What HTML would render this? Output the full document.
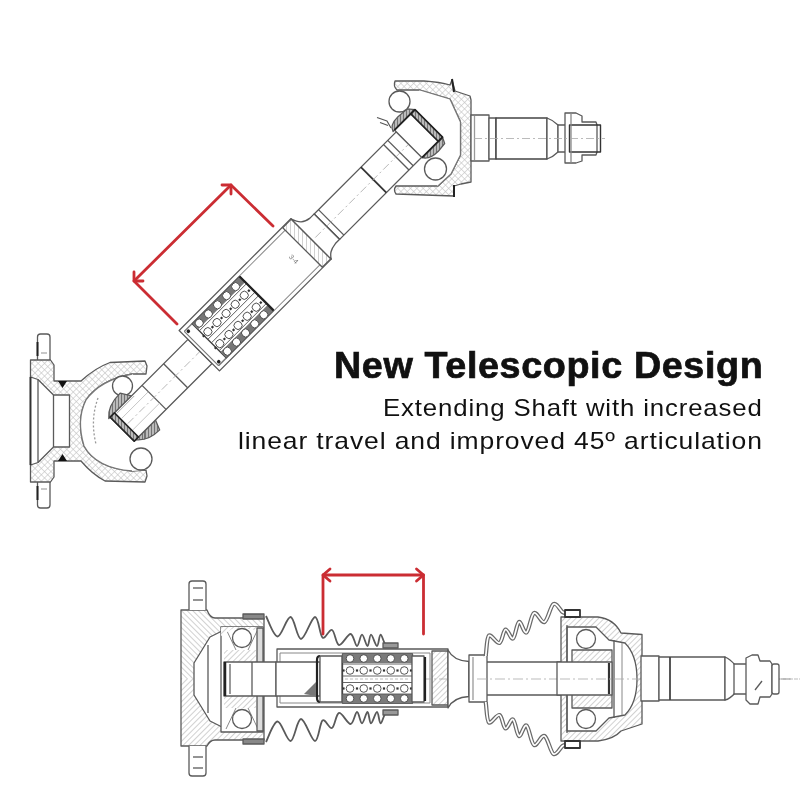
<!DOCTYPE html>
<html><head><meta charset="utf-8">
<style>
html,body{margin:0;padding:0;background:#fff;width:800px;height:800px;overflow:hidden;}
.t{position:absolute;font-family:"Liberation Sans",sans-serif;color:#111;white-space:nowrap;line-height:1;transform-origin:0 0;}
#t1{font-weight:bold;font-size:36px;letter-spacing:0.6px;-webkit-text-stroke:0.7px #111;left:333.5px;top:347.8px;transform:scaleX(1.047);}
#t2{font-size:24px;letter-spacing:0.8px;left:383.4px;top:395.7px;transform:scaleX(1.074);}
#t3{font-size:24px;letter-spacing:0.8px;left:237.8px;top:428.6px;transform:scaleX(1.104);}
svg{position:absolute;left:0;top:0;filter:blur(0.45px);}
</style></head><body>
<svg width="800" height="800" viewBox="0 0 800 800">
<defs>
<pattern id="h" width="4" height="4" patternUnits="userSpaceOnUse" patternTransform="rotate(45)">
<rect width="4" height="4" fill="#fff"/><line x1="0" y1="0" x2="0" y2="4" stroke="#b8b8b8" stroke-width="1.3"/></pattern>
<pattern id="hd" width="3" height="3" patternUnits="userSpaceOnUse" patternTransform="rotate(45)">
<rect width="3" height="3" fill="#bbb"/><line x1="0" y1="0" x2="0" y2="3" stroke="#444" stroke-width="1.2"/></pattern>
<pattern id="hx" width="4.5" height="4.5" patternUnits="userSpaceOnUse" patternTransform="rotate(45)">
<rect width="4.5" height="4.5" fill="#fff"/><line x1="0" y1="0" x2="0" y2="4.5" stroke="#c4c4c4" stroke-width="1.2"/><line x1="0" y1="0" x2="4.5" y2="0" stroke="#c4c4c4" stroke-width="1.2"/></pattern>
<pattern id="h2" width="4" height="4" patternUnits="userSpaceOnUse" patternTransform="rotate(-45)">
<rect width="4" height="4" fill="#fff"/><line x1="0" y1="0" x2="0" y2="4" stroke="#b8b8b8" stroke-width="1.3"/></pattern>
</defs>
<g id="top" fill="none" stroke="#5a5a5a" stroke-width="1.3" stroke-linejoin="round">
 <!-- left flange (unrotated) -->
 <path fill="#fff" d="M37.5,360 L37.5,337 Q37.5,334 40.5,334 L47,334 Q50,334 50,337 L50,360"/>
 <line x1="37.5" y1="342" x2="37.5" y2="356" stroke="#222" stroke-width="2"/>
 <line x1="41" y1="353" x2="47" y2="353" stroke="#aaa"/>
 <path fill="#fff" d="M37.5,482 L37.5,505 Q37.5,508 40.5,508 L47,508 Q50,508 50,505 L50,482"/>
 <line x1="37.5" y1="486" x2="37.5" y2="500" stroke="#222" stroke-width="2"/>
 <line x1="41" y1="489" x2="47" y2="489" stroke="#aaa"/>
 <path fill="url(#hx)" d="M30.5,360 L50.5,360 L54,365 L54,381 L81,381 Q95,368 110,362.5 L145,361 L147,366 L146,374 L132,374 Q100,380 86,400 Q76,420 84,446 Q96,468 132,471 L146,470 L147,476 L145,482 L105,481 Q92,474 81,461 L54,461 L54,477 L50.5,482 L30.5,482 Z"/>
 <path fill="#fff" d="M30.5,377 L38,379.5 L53.5,395 L69.5,395 L69.5,447 L53.5,447 L38,462.5 L30.5,465 Z"/>
 <line x1="38" y1="379.5" x2="38" y2="462.5"/>
 <line x1="53.5" y1="395" x2="53.5" y2="447"/>
 <line x1="30.5" y1="377" x2="30.5" y2="465" stroke="#333" stroke-width="1.8"/>
 <path d="M58,381 L67,381 L62.5,388 Z" fill="#111" stroke="none"/>
 <path d="M58,461 L67,461 L62.5,454 Z" fill="#111" stroke="none"/>
 <!-- yoke cavity inner white -->
 <path fill="#fff" d="M132,374 Q100,380 86,400 Q76,420 84,446 Q96,468 132,471 L146,470 L160,430 L140,380 Z" stroke="none"/>
 <path d="M132,374 Q100,380 86,400 Q76,420 84,446 Q96,468 132,471" stroke="#777"/>
 <path d="M98,398 Q90,420 96,444" stroke="#999" stroke-dasharray="2,2"/>
 <circle cx="122.5" cy="386" r="10" fill="#fff"/>
 <circle cx="141" cy="459" r="11" fill="#fff"/>
 <!-- upper joint housing (unrotated) -->
 <path fill="url(#hx)" d="M395,81 L424,81 Q440,82 450,85 L452,80 L455,91 L470,96 L471,100 L471,182 L461,184 L454,186 L454,196 L396,194 Q393,190 396,186 L438,186 L451,174 L460.5,155 L460.5,122 L450,99 L420,90 L397,90 Q393,86 395,81 Z"/>
 <path fill="#fff" d="M420,90 L450,99 L460.5,122 L460.5,155 L451,174 L438,186 L420,170 L395,120 Z" stroke="none"/>
 <path d="M420,90 L450,99 L460.5,122 L460.5,155 L451,174 L438,186" stroke="#777"/>
 <line x1="452" y1="79" x2="454" y2="92" stroke="#222" stroke-width="2"/>
 <line x1="454" y1="185" x2="454" y2="197" stroke="#222" stroke-width="2"/>
 <!-- output stub -->
 <rect x="471" y="115" width="18" height="46" fill="#fff"/>
 <line x1="474.5" y1="116" x2="474.5" y2="160" stroke="#999"/>
 <rect x="489" y="118" width="7" height="41" fill="#fff"/>
 <rect x="496" y="118" width="51" height="41" fill="#fff" stroke="#444" stroke-width="1.5"/>
 <path fill="#fff" d="M547,118 Q553,120 558,125 L558,152 Q553,157 547,159 Z"/>
 <rect x="558" y="125" width="8" height="27" fill="#fff"/>
 <path fill="#fff" d="M565,113 L576,113 L582,116 L582,122 L596,122 L597,125 L597,152 L596,155 L582,155 L582,161 L576,163 L565,163 Z"/>
 <rect x="569.5" y="125" width="31" height="27" fill="none" stroke="#333" stroke-width="1.4"/>
 <line x1="571" y1="113" x2="571" y2="163" stroke="#888"/>
 <line x1="474" y1="138.5" x2="605" y2="138.5" stroke="#aaa" stroke-width="0.8" stroke-dasharray="8,3,2,3"/>
 <!-- rotated shaft -->
 <g transform="translate(130,420) rotate(-45)">
  <!-- inner race left joint -->
  <path fill="url(#hd)" d="M-14,-16 Q-6,-26 12,-26 L18,-16 Z"/>
  <path fill="url(#hd)" d="M-10,18 Q-2,28 14,28 L18,18 Z"/>
  <!-- lower shaft -->
  <rect x="-12" y="-16" width="110" height="34" fill="#fff"/>
  <rect x="-12" y="-16" width="6" height="34" fill="url(#hd)" stroke="#222" stroke-width="1.6"/>
  <line x1="33" y1="-16" x2="33" y2="18"/>
  <line x1="63.5" y1="-16" x2="63.5" y2="18"/>
  <line x1="-4" y1="1" x2="98" y2="1" stroke="#aaa" stroke-width="0.8" stroke-dasharray="8,3,2,3"/>
  <line x1="-5" y1="-7" x2="33" y2="-7" stroke="#bbb" stroke-width="0.8"/>
  <line x1="-5" y1="9" x2="33" y2="9" stroke="#bbb" stroke-width="0.8"/>
  <line x1="-5" y1="-14" x2="20" y2="-14" stroke="#999" stroke-width="0.8"/>
  <!-- housing -->
  <rect x="98" y="-28.5" width="158" height="57" fill="#fff"/>
  <line x1="101" y1="-24.5" x2="244" y2="-24.5" stroke="#888" stroke-width="1"/>
  <line x1="101" y1="24.5" x2="244" y2="24.5" stroke="#888" stroke-width="1"/>
  <rect x="244" y="-28" width="12" height="56" fill="url(#h)"/>
  <rect x="101" y="-24" width="11" height="48" fill="#fff" stroke="#777" stroke-width="1"/>
  <circle cx="104" cy="-21.5" r="1.8" fill="#222" stroke="none"/><circle cx="104" cy="21.5" r="1.8" fill="#222" stroke="none"/>
  <!-- cage -->
  <rect x="112" y="-24" width="67" height="48" fill="#fff" stroke="#444"/>
  <rect x="112" y="-24" width="67" height="8" fill="#777" stroke="none"/>
  <rect x="112" y="16" width="67" height="8" fill="#777" stroke="none"/>
  <line x1="112" y1="-14" x2="179" y2="-14" stroke="#555" stroke-width="0.9"/>
  <line x1="112" y1="-2" x2="179" y2="-2" stroke="#555" stroke-width="0.9"/>
  <line x1="112" y1="3" x2="179" y2="3" stroke="#555" stroke-width="0.9"/>
  <line x1="112" y1="14" x2="179" y2="14" stroke="#555" stroke-width="0.9"/>
  <g fill="#fff" stroke="#444" stroke-width="0.9"><circle cx="117.5" cy="-19.6" r="4"/><circle cx="117.5" cy="-7.4" r="4"/><circle cx="117.5" cy="9.5" r="4"/><circle cx="117.5" cy="20.2" r="4"/><circle cx="130.4" cy="-19.6" r="4"/><circle cx="130.4" cy="-7.4" r="4"/><circle cx="130.4" cy="9.5" r="4"/><circle cx="130.4" cy="20.2" r="4"/><circle cx="143.3" cy="-19.6" r="4"/><circle cx="143.3" cy="-7.4" r="4"/><circle cx="143.3" cy="9.5" r="4"/><circle cx="143.3" cy="20.2" r="4"/><circle cx="156.2" cy="-19.6" r="4"/><circle cx="156.2" cy="-7.4" r="4"/><circle cx="156.2" cy="9.5" r="4"/><circle cx="156.2" cy="20.2" r="4"/><circle cx="169" cy="-19.6" r="4"/><circle cx="169" cy="-7.4" r="4"/><circle cx="169" cy="9.5" r="4"/><circle cx="169" cy="20.2" r="4"/></g>
  <rect x="110.4" y="-8.5" width="2.2" height="2.2" fill="#333" stroke="none"/><rect x="110.4" y="8.4" width="2.2" height="2.2" fill="#333" stroke="none"/><rect x="122.9" y="-8.5" width="2.2" height="2.2" fill="#333" stroke="none"/><rect x="122.9" y="8.4" width="2.2" height="2.2" fill="#333" stroke="none"/><rect x="135.8" y="-8.5" width="2.2" height="2.2" fill="#333" stroke="none"/><rect x="135.8" y="8.4" width="2.2" height="2.2" fill="#333" stroke="none"/><rect x="148.7" y="-8.5" width="2.2" height="2.2" fill="#333" stroke="none"/><rect x="148.7" y="8.4" width="2.2" height="2.2" fill="#333" stroke="none"/><rect x="161.6" y="-8.5" width="2.2" height="2.2" fill="#333" stroke="none"/><rect x="161.6" y="8.4" width="2.2" height="2.2" fill="#333" stroke="none"/><rect x="174.4" y="-8.5" width="2.2" height="2.2" fill="#333" stroke="none"/><rect x="174.4" y="8.4" width="2.2" height="2.2" fill="#333" stroke="none"/>
  <line x1="179" y1="-24" x2="179" y2="24" stroke="#222" stroke-width="2.2"/>
  <text x="226" y="2" font-family="Liberation Sans" font-size="7" fill="#777" stroke="none" transform="rotate(90 229 0)">3-4</text>
  <!-- neck -->
  <path fill="#fff" d="M256,-28.5 C259,-20 262,-16.5 270,-15.5 L276,-15.5 L276,20.5 L270,20.5 C262,21.5 259,24 256,28.5 Z"/>
  <!-- upper shaft -->
  <rect x="276" y="-15.5" width="116" height="36" fill="#fff"/>
  <line x1="276" y1="-15.5" x2="276" y2="20.5"/>
  <line x1="282" y1="-15.5" x2="282" y2="20.5"/>
  <line x1="342" y1="-15.5" x2="342" y2="20.5" stroke="#333" stroke-width="1.8"/>
  <line x1="374" y1="-15.5" x2="374" y2="20.5"/>
  <line x1="380" y1="-15.5" x2="380" y2="20.5"/>
  <line x1="260" y1="2" x2="420" y2="2" stroke="#aaa" stroke-width="0.8" stroke-dasharray="8,3,2,3"/>
  <!-- inner race upper joint -->
  <path fill="url(#hd)" d="M390,-18 Q392,-25 404,-25 L416,-24 L421,-18 Z"/>
  <path fill="url(#hd)" d="M392,21 Q396,28 408,28 L418,27 L421,21 Z"/>
  <rect x="392" y="-18" width="29" height="39" fill="#fff"/>
  <rect x="415" y="-18" width="6" height="39" fill="url(#hd)" stroke="#222" stroke-width="1.6"/>
  <line x1="392" y1="-18" x2="421" y2="-18" stroke="#222" stroke-width="1.8"/>
  <line x1="392" y1="21" x2="421" y2="21" stroke="#222" stroke-width="1.8"/>
 </g>
 <path d="M377,117.5 L387,121 L391,128 M380,122.5 L388,125.5" stroke="#555" stroke-width="1.2"/>
 <circle cx="399.5" cy="101.5" r="10.5" fill="#fff"/>
 <circle cx="435.5" cy="169" r="11" fill="#fff"/>
</g>
<!-- red arrow top -->
<g stroke="#cb2d33" stroke-width="2.8" fill="none" stroke-linecap="round" stroke-linejoin="round">
 <path d="M177,324 L134,281 L231,185 L273,226"/>
 <path d="M134,272 L134,281 L143,281"/>
 <path d="M222,185 L231,185 L231,194"/>
</g>

<g id="bottom" fill="none" stroke="#5a5a5a" stroke-width="1.3" stroke-linejoin="round">
 <!-- left flange housing -->
 <path fill="url(#h2)" stroke="none" d="M181,610 L207,610 Q210,618 215,618 L264,618 L264,679 L181,679 Z"/>
 <path fill="url(#h)" stroke="none" d="M181,679 L264,679 L264,740 L215,740 Q210,740 207,746 L181,746 Z"/>
 <path d="M181,610 L207,610 Q210,618 215,618 L264,618 L264,740 L215,740 Q210,740 207,746 L181,746 Z"/>
 <!-- tabs -->
 <path fill="#fff" d="M189,610 L189,584 Q189,581 192,581 L203,581 Q206,581 206,584 L206,610"/>
 <line x1="193" y1="588" x2="203" y2="588"/><line x1="193" y1="600" x2="203" y2="600"/>
 <path fill="#fff" d="M189,746 L189,773 Q189,776 192,776 L203,776 Q206,776 206,773 L206,746"/>
 <line x1="193" y1="768" x2="203" y2="768"/><line x1="193" y1="757" x2="203" y2="757"/>
 <!-- dome cavity -->
 <path fill="#fff" d="M224,630 L210,637 L194,663 L194,695 L210,721 L224,728 Z"/>
 <line x1="208" y1="645" x2="208" y2="713"/>
 <!-- bearing area -->
 <rect x="221" y="627" width="42" height="105" fill="#fff"/>
 <rect x="224" y="650" width="32" height="12" fill="url(#h)" stroke="none"/>
 <rect x="224" y="696" width="32" height="12" fill="url(#h)" stroke="none"/>
 <path d="M226,629 L236,650 M258,629 L248,650 M226,729 L236,708 M258,729 L248,708" stroke="#888" stroke-width="1"/>
 <path fill="url(#h)" stroke="none" d="M221,627 L263,627 L263,634 L252,629 L232,629 L221,636 Z"/>
 <rect x="257" y="628" width="6" height="103" fill="#ddd"/>
 <circle cx="242" cy="638" r="9.5" fill="#fff"/>
 <circle cx="242" cy="719" r="9.5" fill="#fff"/>
 <!-- boot clamps -->
 <rect x="243" y="614" width="21" height="5" fill="#888"/>
 <rect x="243" y="739" width="21" height="5" fill="#888"/>
 <!-- hub stub -->
 <rect x="224" y="662" width="52" height="34" fill="#fff"/>
 <line x1="225" y1="662" x2="225" y2="696" stroke="#222" stroke-width="2.5"/>
 <line x1="230" y1="664" x2="230" y2="694" stroke="#999" stroke-width="2"/>
 <line x1="252" y1="662" x2="252" y2="696"/>
 <!-- boots left -->
 <path stroke-width="1.8" d="M266,616 C267.9,619.4 273.4,636.3 277.5,636.5 C281.6,636.7 286.7,616.6 290.6,617.0 C294.5,617.4 296.9,639.0 301.0,639.0 C305.1,639.0 311.4,617.2 315.0,617.0 C318.6,616.8 319.7,635.3 322.5,637.5 C325.3,639.7 329.2,628.8 332.0,630.0 C334.8,631.2 335.9,644.3 339.0,645.0 C342.1,645.7 347.6,633.8 350.6,634.0 C353.6,634.2 355.1,645.9 357.0,646.0 C358.9,646.1 360.2,634.7 362.0,634.7 C363.8,634.7 366.0,646.0 367.5,646.0 C369.0,646.0 369.4,634.7 371.0,634.7 C372.6,634.7 375.4,646.0 377.0,646.0 C378.6,646.0 379.1,634.9 380.6,634.7 C382.1,634.5 383.5,643.3 386.0,645.0 C388.5,646.7 394.0,645.0 395.6,645.0"/>
 <path stroke-width="1.8" d="M266,742 C267.9,738.6 273.4,721.7 277.5,721.5 C281.6,721.3 286.7,741.4 290.6,741.0 C294.5,740.6 296.9,719.0 301.0,719.0 C305.1,719.0 311.4,740.8 315.0,741.0 C318.6,741.2 319.7,722.7 322.5,720.5 C325.3,718.3 329.2,729.2 332.0,728.0 C334.8,726.8 335.9,713.7 339.0,713.0 C342.1,712.3 347.6,724.2 350.6,724.0 C353.6,723.8 355.1,712.1 357.0,712.0 C358.9,711.9 360.2,723.3 362.0,723.3 C363.8,723.3 366.0,712.0 367.5,712.0 C369.0,712.0 369.4,723.3 371.0,723.3 C372.6,723.3 375.4,712.0 377.0,712.0 C378.6,712.0 379.1,723.1 380.6,723.3 C382.1,723.5 383.5,714.7 386.0,713.0 C388.5,711.3 394.0,713.0 395.6,713.0"/>
 <!-- telescopic housing -->
 <rect x="277" y="649" width="171" height="58" fill="#fff"/>
 <rect x="280" y="653" width="150" height="50" fill="none" stroke="#888" stroke-width="1"/>
 <rect x="432" y="651" width="16" height="54" fill="url(#h)"/>
 <line x1="277" y1="679" x2="800" y2="679" stroke="#aaa" stroke-width="0.8" stroke-dasharray="10,3,2,3"/>
 <!-- inner shaft in housing -->
 <rect x="276" y="662" width="44" height="34" fill="#fff"/>
 <path d="M320,656 Q317,656 317,660 L317,698 Q317,702 320,702" stroke="#222" stroke-width="2.2"/>
 <rect x="320" y="656" width="22" height="46" fill="#fff"/>
 <path d="M304,694 L316,682 L316,696 Z" fill="#777" stroke="none"/>
 <!-- ball cage -->
 <rect x="342.5" y="654" width="70" height="49" fill="#fff" stroke="#444"/>
 <rect x="342.5" y="654" width="70" height="9" fill="#7a7a7a" stroke="none"/>
 <rect x="342.5" y="694" width="70" height="9" fill="#7a7a7a" stroke="none"/>
 <line x1="342.5" y1="664" x2="412.5" y2="664" stroke="#555" stroke-width="0.9"/>
 <line x1="342.5" y1="676" x2="412.5" y2="676" stroke="#555" stroke-width="0.9"/>
 <line x1="342.5" y1="682.5" x2="412.5" y2="682.5" stroke="#555" stroke-width="0.9"/>
 <line x1="342.5" y1="694" x2="412.5" y2="694" stroke="#555" stroke-width="0.9"/>
 <line x1="345" y1="679" x2="410" y2="679" stroke="#aaa" stroke-width="0.8" stroke-dasharray="3,2"/>
 <g fill="#fff" stroke="#444" stroke-width="0.9">
  <circle cx="350" cy="658.5" r="3.8"/>
  <circle cx="350" cy="670.5" r="3.8"/>
  <circle cx="350" cy="688.5" r="3.8"/>
  <circle cx="350" cy="698.5" r="3.8"/>
  <circle cx="363.75" cy="658.5" r="3.8"/>
  <circle cx="363.75" cy="670.5" r="3.8"/>
  <circle cx="363.75" cy="688.5" r="3.8"/>
  <circle cx="363.75" cy="698.5" r="3.8"/>
  <circle cx="377.25" cy="658.5" r="3.8"/>
  <circle cx="377.25" cy="670.5" r="3.8"/>
  <circle cx="377.25" cy="688.5" r="3.8"/>
  <circle cx="377.25" cy="698.5" r="3.8"/>
  <circle cx="390.75" cy="658.5" r="3.8"/>
  <circle cx="390.75" cy="670.5" r="3.8"/>
  <circle cx="390.75" cy="688.5" r="3.8"/>
  <circle cx="390.75" cy="698.5" r="3.8"/>
  <circle cx="404.25" cy="658.5" r="3.8"/>
  <circle cx="404.25" cy="670.5" r="3.8"/>
  <circle cx="404.25" cy="688.5" r="3.8"/>
  <circle cx="404.25" cy="698.5" r="3.8"/>
 </g>
 <rect x="342.4" y="669.4" width="2.2" height="2.2" fill="#333" stroke="none"/><rect x="342.4" y="687.4" width="2.2" height="2.2" fill="#333" stroke="none"/><rect x="355.9" y="669.4" width="2.2" height="2.2" fill="#333" stroke="none"/><rect x="355.9" y="687.4" width="2.2" height="2.2" fill="#333" stroke="none"/><rect x="369.4" y="669.4" width="2.2" height="2.2" fill="#333" stroke="none"/><rect x="369.4" y="687.4" width="2.2" height="2.2" fill="#333" stroke="none"/><rect x="382.9" y="669.4" width="2.2" height="2.2" fill="#333" stroke="none"/><rect x="382.9" y="687.4" width="2.2" height="2.2" fill="#333" stroke="none"/><rect x="396.4" y="669.4" width="2.2" height="2.2" fill="#333" stroke="none"/><rect x="396.4" y="687.4" width="2.2" height="2.2" fill="#333" stroke="none"/><rect x="409.9" y="669.4" width="2.2" height="2.2" fill="#333" stroke="none"/><rect x="409.9" y="687.4" width="2.2" height="2.2" fill="#333" stroke="none"/>
 <rect x="412" y="656" width="12" height="46" fill="#fff"/>
 <line x1="425" y1="657" x2="425" y2="701" stroke="#222" stroke-width="2.2"/>
 <!-- small boot ring -->
 <rect x="383" y="643" width="15" height="5" fill="#999"/>
 <rect x="383" y="710" width="15" height="5" fill="#999"/>
 <!-- neck -->
 <path fill="#fff" d="M448,650 C451,656 458,661 469,661.5 L469,696.5 C458,697 451,702 448,708 Z"/>
 <!-- shaft -->
 <rect x="469" y="662" width="143" height="33" fill="#fff"/>
 <rect x="469" y="655" width="18" height="47" fill="#fff"/>
 <line x1="473" y1="657" x2="473" y2="700" stroke="#999"/>
 <line x1="477" y1="679" x2="800" y2="679" stroke="#aaa" stroke-width="0.8" stroke-dasharray="10,3,2,3"/>
 <!-- right boot -->
 <path stroke="#6a6a6a" stroke-width="4.2" d="M486,656 C486.0,655.6 485.5,656.9 486.0,653.5 C486.5,650.1 486.8,637.2 489.0,635.5 C491.2,633.8 496.8,644.0 499.5,643.0 C502.2,642.0 503.2,630.2 505.5,629.5 C507.8,628.8 510.8,639.8 513.0,638.5 C515.2,637.2 516.8,623.0 519.0,622.0 C521.2,621.0 524.0,634.0 526.5,632.5 C529.0,631.0 531.0,614.8 534.0,613.0 C537.0,611.2 541.2,623.5 544.5,622.0 C547.8,620.5 550.5,605.7 553.5,604.0 C556.5,602.3 560.4,610.5 562.5,612.0 C564.6,613.5 565.4,612.8 566.0,613.0"/>
 <path stroke="#fff" stroke-width="1.7" d="M486,656 C486.0,655.6 485.5,656.9 486.0,653.5 C486.5,650.1 486.8,637.2 489.0,635.5 C491.2,633.8 496.8,644.0 499.5,643.0 C502.2,642.0 503.2,630.2 505.5,629.5 C507.8,628.8 510.8,639.8 513.0,638.5 C515.2,637.2 516.8,623.0 519.0,622.0 C521.2,621.0 524.0,634.0 526.5,632.5 C529.0,631.0 531.0,614.8 534.0,613.0 C537.0,611.2 541.2,623.5 544.5,622.0 C547.8,620.5 550.5,605.7 553.5,604.0 C556.5,602.3 560.4,610.5 562.5,612.0 C564.6,613.5 565.4,612.8 566.0,613.0"/>
 <path stroke="#6a6a6a" stroke-width="4.2" d="M486,702 C486.0,702.4 485.5,701.1 486.0,704.5 C486.5,707.9 486.8,720.8 489.0,722.5 C491.2,724.2 496.8,714.0 499.5,715.0 C502.2,716.0 503.2,727.8 505.5,728.5 C507.8,729.2 510.8,718.2 513.0,719.5 C515.2,720.8 516.8,735.0 519.0,736.0 C521.2,737.0 524.0,724.0 526.5,725.5 C529.0,727.0 531.0,743.2 534.0,745.0 C537.0,746.8 541.2,734.5 544.5,736.0 C547.8,737.5 550.5,752.3 553.5,754.0 C556.5,755.7 560.4,747.5 562.5,746.0 C564.6,744.5 565.4,745.2 566.0,745.0"/>
 <path stroke="#fff" stroke-width="1.7" d="M486,702 C486.0,702.4 485.5,701.1 486.0,704.5 C486.5,707.9 486.8,720.8 489.0,722.5 C491.2,724.2 496.8,714.0 499.5,715.0 C502.2,716.0 503.2,727.8 505.5,728.5 C507.8,729.2 510.8,718.2 513.0,719.5 C515.2,720.8 516.8,735.0 519.0,736.0 C521.2,737.0 524.0,724.0 526.5,725.5 C529.0,727.0 531.0,743.2 534.0,745.0 C537.0,746.8 541.2,734.5 544.5,736.0 C547.8,737.5 550.5,752.3 553.5,754.0 C556.5,755.7 560.4,747.5 562.5,746.0 C564.6,744.5 565.4,745.2 566.0,745.0"/>
 <!-- CV housing right -->
 <path fill="url(#h)" d="M561,617 L598,617 Q614,619 621,633 L642,634.5 L642,724 L621,731 Q614,739 598,741 L561,741 Z"/>
 <path fill="#fff" d="M567,627 L596,627 L609,640 L625,643 C633,651 637,663 637,679 C637,695 633,707 625,715 L609,718 L596,731 L567,731 Z"/>
 <line x1="622" y1="643" x2="622" y2="715" stroke="#888" stroke-width="1"/>
 <line x1="567" y1="625" x2="567" y2="733"/>
 <rect x="565" y="610" width="15" height="7" fill="#fff" stroke="#333" stroke-width="1.8"/>
 <rect x="565" y="741" width="15" height="7" fill="#fff" stroke="#333" stroke-width="1.8"/>
 <rect x="572" y="650" width="40" height="58" fill="url(#h)"/>
 <circle cx="586" cy="639" r="9.5" fill="#fff"/>
 <circle cx="586" cy="719" r="9.5" fill="#fff"/>
 <line x1="614" y1="640" x2="614" y2="718"/>
 <rect x="557" y="662" width="55" height="33" fill="#fff"/>
 <line x1="609" y1="663" x2="609" y2="694" stroke="#333" stroke-width="2.2"/>
 <line x1="560" y1="679" x2="790" y2="679" stroke="#aaa" stroke-width="0.8" stroke-dasharray="10,3,2,3"/>
 <!-- output stub -->
 <rect x="641" y="656" width="18" height="45" fill="#fff"/>
 <rect x="659" y="657" width="66" height="43" fill="#fff"/>
 <line x1="670" y1="657" x2="670" y2="700" stroke="#444" stroke-width="1.8"/>
 <path fill="#fff" d="M725,657 Q730,659 735,665 L735,693 Q730,699 725,700 Z"/>
 <rect x="734" y="664" width="13" height="30" fill="#fff"/>
 <path fill="#fff" d="M746,658 L752,655 L758,655 L760,661 L770,661 L772,664 L772,694 L770,697 L760,697 L758,704 L750,704 L746,700 Z"/>
 <rect x="772" y="664" width="7" height="30" fill="#fff" rx="2"/>
 <line x1="762" y1="681" x2="755" y2="690"/>
</g>
<!-- red arrow bottom -->
<g stroke="#cb2d33" stroke-width="2.8" fill="none" stroke-linecap="round" stroke-linejoin="round">
 <path d="M323,634 L323,575 L423.5,575 L423.5,634"/>
 <path d="M330,569 L323,575 L330,581"/>
 <path d="M416.5,569 L423.5,575 L416.5,581"/>
</g>
</svg>
<div class="t" id="t1">New Telescopic Design</div>
<div class="t" id="t2">Extending Shaft with increased</div>
<div class="t" id="t3">linear travel and improved 45º articulation</div>
</body></html>
